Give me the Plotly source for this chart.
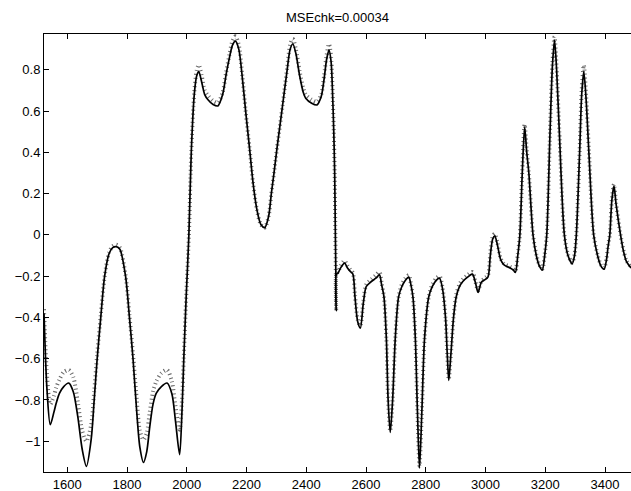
import plotly.graph_objects as go

x_vals = [
    1522, 1532, 1543, 1555, 1563, 1574, 1588, 1605, 1620, 1635, 1650, 1664, 1680, 1690, 1700,
    1712, 1725, 1740, 1752, 1764, 1776, 1795, 1808, 1820, 1832, 1843, 1855, 1866, 1876, 1887,
    1898, 1915, 1934, 1950, 1962, 1976, 1984, 1990, 1998, 2007, 2015, 2025, 2033, 2040, 2050,
    2060, 2071, 2088, 2104, 2120, 2132, 2143, 2153, 2163, 2174, 2186, 2197, 2210, 2222, 2235,
    2248, 2261, 2274, 2283, 2292, 2302, 2320, 2336, 2346, 2355, 2365, 2378, 2390, 2398, 2418,
    2436, 2450, 2460, 2468, 2476, 2483, 2489, 2492, 2495, 2497, 2499, 2500, 2501, 2506, 2515,
    2528, 2538, 2548, 2556, 2563, 2572, 2581, 2591, 2601, 2618, 2633, 2645, 2652, 2660, 2668,
    2674, 2681, 2689, 2698, 2709, 2720, 2732, 2743, 2750, 2757, 2765, 2772, 2779, 2787, 2796,
    2810, 2822, 2835, 2846, 2856, 2866, 2872, 2877, 2884, 2893, 2902, 2913, 2924, 2940, 2956,
    2966, 2975, 2986, 2997, 3008, 3016, 3024, 3031, 3040, 3051, 3062, 3083, 3093, 3100, 3108,
    3115, 3123, 3131, 3138, 3145, 3159, 3170, 3180, 3190, 3198, 3205, 3216, 3224, 3231, 3238,
    3247, 3264, 3276, 3290, 3298, 3304, 3315, 3322, 3329, 3337, 3346, 3362, 3375, 3386, 3397,
    3405, 3410, 3416, 3423, 3430, 3437, 3452, 3462, 3472, 3487,
]

model_vals = [
    -0.38, -0.75, -0.92, -0.86, -0.815, -0.767, -0.735, -0.718, -0.76, -0.88, -1.04, -1.122, -0.99, -0.80, -0.60,
    -0.40, -0.20, -0.09, -0.062, -0.057, -0.07, -0.20, -0.40, -0.60, -0.85, -1.03, -1.103, -1.05, -0.93, -0.82,
    -0.767, -0.735, -0.718, -0.77, -0.90, -1.065, -0.85, -0.60, -0.30, 0.0, 0.40, 0.68, 0.77, 0.791, 0.74,
    0.68, 0.655, 0.632, 0.625, 0.68, 0.78, 0.86, 0.92, 0.939, 0.90, 0.76, 0.60, 0.42, 0.25, 0.12,
    0.05, 0.035, 0.09, 0.20, 0.30, 0.42, 0.62, 0.80, 0.90, 0.925, 0.88, 0.77, 0.69, 0.662, 0.638,
    0.63, 0.67, 0.76, 0.85, 0.895, 0.84, 0.64, 0.50, 0.30, 0.05, -0.20, -0.367, -0.19, -0.186, -0.16,
    -0.137, -0.16, -0.178, -0.19, -0.30, -0.42, -0.452, -0.33, -0.25, -0.226, -0.21, -0.194, -0.24, -0.30, -0.50,
    -0.80, -0.957, -0.80, -0.50, -0.30, -0.25, -0.22, -0.205, -0.24, -0.30, -0.50, -0.85, -1.13, -0.85, -0.50,
    -0.30, -0.25, -0.22, -0.21, -0.26, -0.40, -0.58, -0.705, -0.58, -0.40, -0.30, -0.25, -0.226, -0.205, -0.19,
    -0.23, -0.279, -0.23, -0.218, -0.205, -0.10, -0.02, -0.005, -0.05, -0.121, -0.145, -0.161, -0.17, -0.182, -0.10,
    0.0, 0.30, 0.522, 0.40, 0.30, 0.0, -0.10, -0.15, -0.17, -0.10, 0.0, 0.50, 0.82, 0.944, 0.80,
    0.50, 0.0, -0.10, -0.14, -0.10, 0.0, 0.40, 0.68, 0.791, 0.65, 0.40, 0.0, -0.10, -0.15, -0.166,
    -0.12, -0.06, 0.0, 0.17, 0.237, 0.15, 0.0, -0.08, -0.13, -0.16,
]

data_vals = [
    -0.36, -0.68, -0.82, -0.78, -0.74, -0.70, -0.665, -0.655, -0.69, -0.81, -0.95, -1.0, -0.92, -0.76, -0.58,
    -0.39, -0.20, -0.085, -0.055, -0.048, -0.062, -0.195, -0.39, -0.58, -0.79, -0.95, -0.993, -0.96, -0.86, -0.76,
    -0.71, -0.67, -0.655, -0.71, -0.83, -0.944, -0.80, -0.59, -0.30, 0.0, 0.40, 0.69, 0.795, 0.823, 0.77,
    0.70, 0.675, 0.65, 0.64, 0.69, 0.79, 0.875, 0.94, 0.962, 0.92, 0.77, 0.60, 0.42, 0.25, 0.12,
    0.05, 0.035, 0.09, 0.20, 0.30, 0.42, 0.62, 0.81, 0.92, 0.95, 0.90, 0.79, 0.71, 0.68, 0.655,
    0.645, 0.68, 0.775, 0.87, 0.925, 0.86, 0.65, 0.50, 0.30, 0.05, -0.20, -0.367, -0.185, -0.18, -0.15,
    -0.125, -0.15, -0.17, -0.185, -0.29, -0.41, -0.44, -0.32, -0.24, -0.215, -0.195, -0.18, -0.23, -0.30, -0.50,
    -0.80, -0.95, -0.80, -0.50, -0.30, -0.24, -0.21, -0.195, -0.235, -0.30, -0.50, -0.85, -1.12, -0.85, -0.50,
    -0.30, -0.24, -0.21, -0.20, -0.255, -0.40, -0.58, -0.70, -0.58, -0.40, -0.29, -0.24, -0.215, -0.195, -0.18,
    -0.225, -0.27, -0.225, -0.21, -0.195, -0.09, -0.01, 0.005, -0.04, -0.115, -0.14, -0.155, -0.165, -0.175, -0.095,
    0.0, 0.31, 0.535, 0.41, 0.30, 0.0, -0.095, -0.145, -0.165, -0.095, 0.0, 0.51, 0.83, 0.96, 0.81,
    0.50, 0.0, -0.095, -0.135, -0.095, 0.0, 0.41, 0.70, 0.823, 0.67, 0.41, 0.0, -0.095, -0.145, -0.16,
    -0.115, -0.055, 0.0, 0.175, 0.245, 0.155, 0.0, -0.075, -0.125, -0.155,
]

x_ticks = [1600, 1800, 2000, 2200, 2400, 2600, 2800, 3000, 3200, 3400]
y_ticks = [-1, -0.8, -0.6, -0.4, -0.2, 0, 0.2, 0.4, 0.6, 0.8]
y_tick_text = ["\u22121", "\u22120.8", "\u22120.6", "\u22120.4", "\u22120.2", "0", "0.2", "0.4", "0.6", "0.8"]
title_text = "MSEchk=0.00034"

fig = go.Figure()
fig.add_trace(go.Scatter(
    x=x_vals, y=data_vals, mode="lines",
    line=dict(color="#6a6a6a", width=4, dash="1px,3px", shape="spline", smoothing=0.8),
    showlegend=False, hoverinfo="skip",
))
fig.add_trace(go.Scatter(
    x=x_vals, y=model_vals, mode="lines",
    line=dict(color="black", width=1.7, shape="spline", smoothing=0.8),
    showlegend=False,
))

axis_font = dict(family="Liberation Sans, Arial, Helvetica, sans-serif", size=13, color="black")
fig.update_layout(
    width=631, height=491,
    margin=dict(l=44, r=0, t=34, b=19, pad=0),
    paper_bgcolor="white", plot_bgcolor="white",
    title=dict(text=title_text, x=(44 + 631) / 2 / 631, xanchor="center", y=1 - 17 / 491, yanchor="middle",
               font=dict(family="Liberation Sans, Arial, Helvetica, sans-serif", size=13, color="black")),
    xaxis=dict(range=[1522, 3487], tickvals=x_ticks, ticks="inside", ticklen=5, tickcolor="black",
               showline=True, linecolor="black", linewidth=1, mirror="ticks", showgrid=False,
               zeroline=False, tickfont=axis_font),
    yaxis=dict(range=[-1.149, 0.9734], tickvals=y_ticks, ticktext=y_tick_text, ticks="inside", ticklen=5,
               tickcolor="black", showline=True, linecolor="black", linewidth=1, showgrid=False,
               zeroline=False, tickfont=axis_font),
)
fig.write_html("out.html", config={"displayModeBar": False},
               post_script="document.body.style.margin='0';document.body.style.overflow='hidden';")
